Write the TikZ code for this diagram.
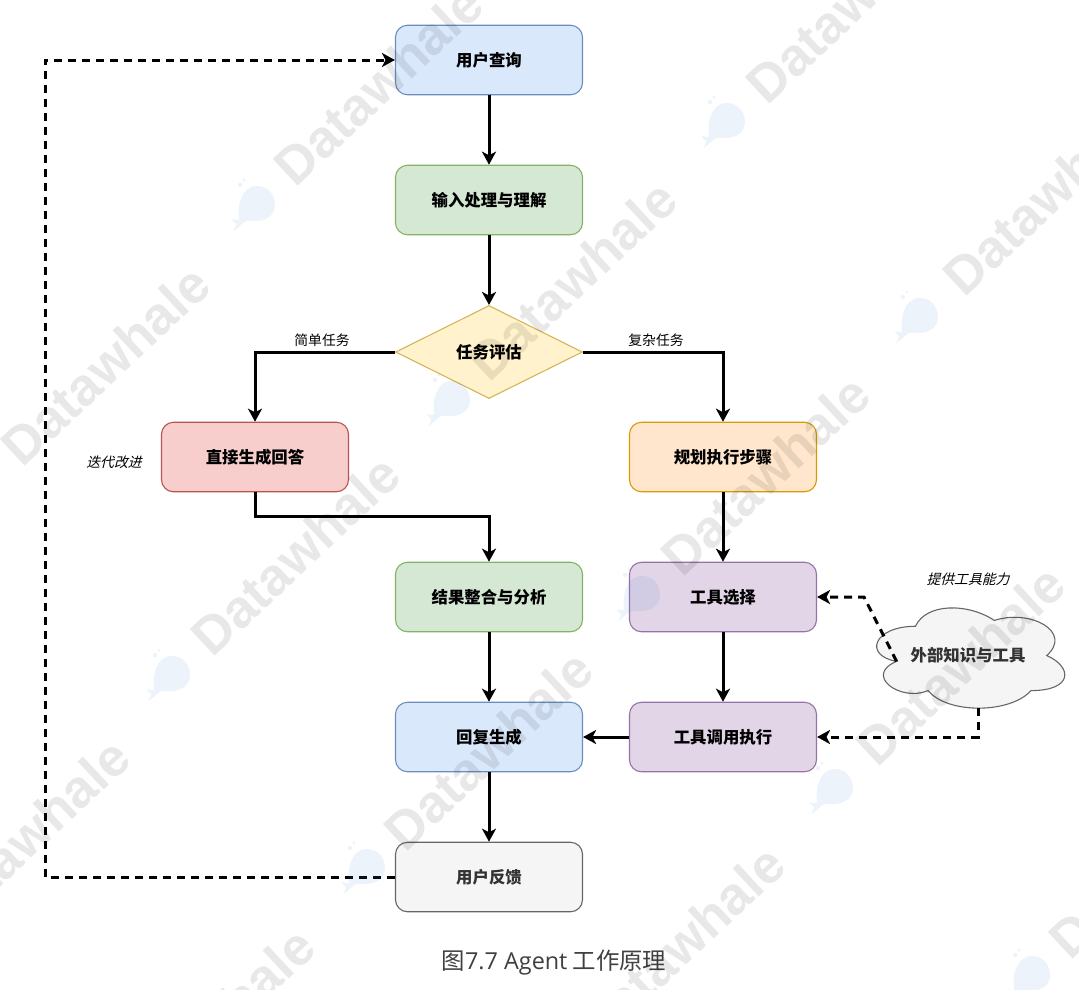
\documentclass[tikz,border=0pt]{standalone}
\usepackage{fontspec}
\setmainfont{Noto Sans CJK SC}
\newfontfamily\slantcjk[FakeSlant=0.25]{Noto Sans CJK SC}
\newfontfamily\capfont{Open Sans}
\newfontfamily\markfont{Liberation Sans}
\usetikzlibrary{arrows.meta, shapes.geometric}
\definecolor{qblue}{HTML}{DAE8FC}
\definecolor{qblueline}{HTML}{6C8EBF}
\definecolor{pgreen}{HTML}{D5E8D4}
\definecolor{pgreenline}{HTML}{82B366}
\definecolor{dyellow}{HTML}{FFF2CC}
\definecolor{dyellowline}{HTML}{D6B656}
\definecolor{sred}{HTML}{F8CECC}
\definecolor{sredline}{HTML}{B85450}
\definecolor{corange}{HTML}{FFE6CC}
\definecolor{corangeline}{HTML}{D79B00}
\definecolor{tpurple}{HTML}{E1D5E7}
\definecolor{tpurpleline}{HTML}{9673A6}
\definecolor{fgray}{HTML}{F5F5F5}
\definecolor{fgrayline}{HTML}{666666}
\definecolor{fgraytext}{HTML}{333333}
\definecolor{captext}{HTML}{404040}
\definecolor{whaleblue}{HTML}{4A86D0}

\begin{document}
\begin{tikzpicture}[
  x=1pt, y=-1pt,
  >={Stealth[length=13pt, width=14pt, inset=3.5pt]},
  flowbox/.style 2 args={draw=#2, line width=1.1pt, fill=#1, rounded corners=12pt,
    minimum width=187pt, minimum height=69.5pt, inner sep=0pt,
    font=\fontsize{16.4}{18}\selectfont\bfseries},
  arr/.style={->, line width=3pt, black},
  dasharr/.style={->, line width=3pt, black, dash pattern=on 8pt off 6pt},
  edgetext/.style={font=\fontsize{13.8}{16}\selectfont, inner sep=0pt},
  notetext/.style={font=\fontsize{13.8}{16}\selectfont\slantcjk, inner sep=0pt},
  markword/.style={font=\fontsize{53}{56}\selectfont\markfont\bfseries, rotate=43,
    text=black, text opacity=0.09, inner sep=0pt},
  whale/.style={fill=whaleblue, fill opacity=0.1},
]

\useasboundingbox (0,0) rectangle (1079,989);

% === Main column ===
\node[flowbox={qblue}{qblueline}] (query) at (489,60) {用户查询};
\node[flowbox={pgreen}{pgreenline}] (input) at (489,200) {输入处理与理解};

% Task check
\node[diamond, draw=dyellowline, line width=1.1pt, fill=dyellow, aspect=2,
  minimum width=187pt, minimum height=93pt, inner sep=0pt,
  font=\fontsize{16.4}{18}\selectfont\bfseries] (check) at (489,352) {任务评估};

\node[flowbox={sred}{sredline}] (direct) at (255,457) {直接生成回答};
\node[flowbox={corange}{corangeline}] (plan) at (723,457) {规划执行步骤};
\node[flowbox={pgreen}{pgreenline}] (merge) at (489,597) {结果整合与分析};
\node[flowbox={tpurple}{tpurpleline}] (select) at (723,597) {工具选择};
\node[flowbox={qblue}{qblueline}] (reply) at (489,737) {回复生成};
\node[flowbox={tpurple}{tpurpleline}] (call) at (723,737) {工具调用执行};
\node[flowbox={fgray}{fgrayline}, text=fgraytext] (feedback) at (489,877) {用户反馈};

% === External knowledge cloud ===
\begin{scope}[shift={(863,597)}, x=210pt, y=-117pt]
  \draw[draw=fgrayline, line width=1.1pt, fill=fgray]
    (0.25,0.25) .. controls (0.05,0.25) and (0,0.5) .. (0.16,0.55)
    .. controls (0,0.67) and (0.18,0.9) .. (0.31,0.8)
    .. controls (0.4,1) and (0.7,1) .. (0.8,0.8)
    .. controls (1,0.8) and (1,0.6) .. (0.875,0.5)
    .. controls (1,0.3) and (0.8,0.1) .. (0.625,0.2)
    .. controls (0.5,0.05) and (0.3,0.05) .. (0.25,0.25) -- cycle;
  \node[font=\fontsize{16.4}{18}\selectfont\bfseries, text=fgraytext, inner sep=0pt]
    (cloud) at (0.5,0.5) {外部知识与工具};
  \coordinate (cloudleft) at (0.16,0.55);
  \coordinate (cloudbottom) at (0.55,0.95);
\end{scope}

% === Arrows ===
\draw[arr] (query) -- (input);
\draw[arr] (input) -- (check);
\draw[arr] (check.west) -| (direct.north);
\draw[arr] (check.east) -| (plan.north);
\draw[arr] (direct.south) |- (489,516) -- (merge.north);
\draw[arr] (plan) -- (select);
\draw[arr] (select) -- (call);
\draw[arr] (merge) -- (reply);
\draw[arr] (call) -- (reply);
\draw[arr] (reply) -- (feedback);

% Dashed links
\coordinate (loopbottom) at (45,877);
\coordinate (cloudbend) at (864,597);
\draw[dasharr] (feedback.west) -- (loopbottom) |- (query.west);
\draw[dasharr] (cloudleft) -- (cloudbend) -- (select.east);
\draw[dasharr] (cloudbottom) |- (call.east);

% === Labels ===
\node[edgetext] (simple) at (322,340) {简单任务};
\node[edgetext] (complex) at (656,340) {复杂任务};
\node[notetext] (iterate) at (114,462) {迭代改进};
\node[notetext] (provide) at (968,579) {提供工具能力};

% Caption
\node[font=\fontsize{23.4}{26}\selectfont, text=captext, inner sep=0pt] (caption) at (554,963)
  {图{\capfont 7.7 Agent} 工作原理};

% === Watermark ===
\foreach \mx/\my in {378/85, 572/280, 765/475, 960/665, 1153/858, 850/3, 1047/195,
    105/365, 295/555, 488/750, 680/945, 25/838, 210/1027, 1240/390}
  \node[markword] (mark\mx) at (\mx,\my) {Datawhale};

\foreach \wx/\wy in {257/204, 452/399, 642/594, 835/787, 1032/974, 727/121, 920/316,
    172/674, 367/867}
  {
  \fill[whale, shift={(\wx,\wy)}]
    (0,-18) .. controls (11,-18) and (18,-9) .. (18,1)
    .. controls (18,11) and (9,17) .. (-1,17)
    .. controls (-7,17) and (-11,16) .. (-14,19)
    .. controls (-17,22) and (-20,25) .. (-24,27)
    .. controls (-22,24) and (-21,22) .. (-21,20)
    .. controls (-23,19) and (-24,17) .. (-25,15)
    .. controls (-22,16) and (-20,16) .. (-18,16)
    .. controls (-20,5) and (-17,-18) .. (0,-18) -- cycle;
  \fill[whale, shift={(\wx,\wy)}] (-17,-19) circle (2.2) (-13,-24) circle (1.6);
  }

\end{tikzpicture}
\end{document}
